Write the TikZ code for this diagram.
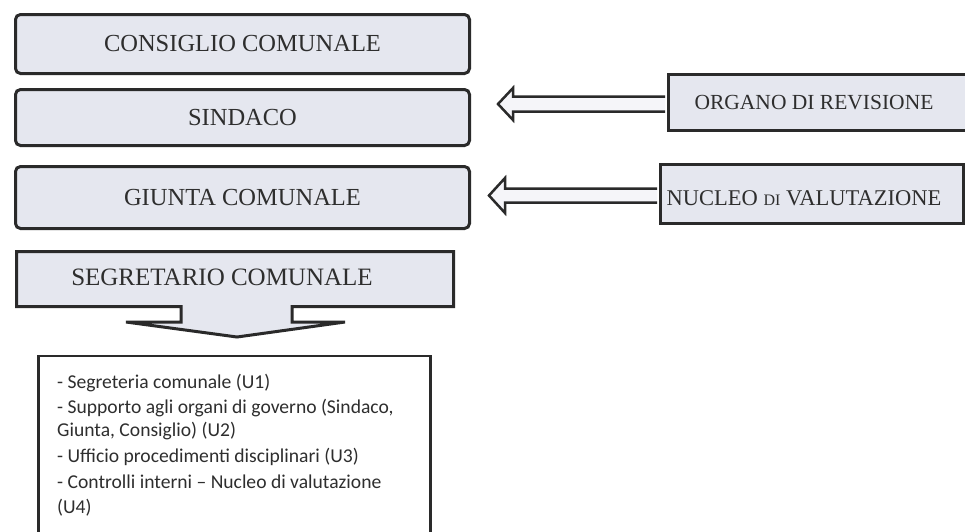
\documentclass[tikz,border=0pt]{standalone}
\usepackage{fontspec}
\setmainfont{Liberation Serif}
\newfontfamily\listfont{Carlito}
\usetikzlibrary{calc}
\definecolor{boxfill}{HTML}{E5E7EF}
\definecolor{ink}{HTML}{2A2A2A}
\definecolor{txt}{HTML}{2E2E2E}
\begin{document}
\begin{tikzpicture}[x=1pt,y=-1pt,
  topbox/.style={draw=ink, line width=3pt, fill=boxfill, rounded corners=5pt,
    minimum width=454pt, inner sep=0pt, font=\fontsize{24.5}{24.5}\selectfont, text=txt},
  sidebox/.style={draw=ink, line width=3pt, fill=boxfill, inner sep=0pt, anchor=west},
  sidetext/.style={inner sep=0pt, text=txt, font=\fontsize{21.5}{21.5}\selectfont},
  blockarr/.style={draw=ink, line width=2.5pt, fill=boxfill!40!white, line join=miter},
  listline/.style={anchor=base west, inner sep=0pt, text=txt, font=\listfont\fontsize{19.6}{19.6}\selectfont},
]
\useasboundingbox (0,0) rectangle (965,531);
\fill[white] (0,0) rectangle (965,531);

% left column
\node[topbox, minimum height=59pt] (cc) at (242.5,44) {CONSIGLIO COMUNALE};
\node[topbox, minimum height=56pt] (sind) at (242.5,117.5) {SINDACO};
\node[topbox, minimum height=62pt] (giun) at (242.5,197.5) {GIUNTA COMUNALE};

% right boxes
\node[sidebox, minimum width=340pt, minimum height=56pt] (org) at (666.5,102.5) {};
\node[sidetext] (orgt) at (814,103) {ORGANO DI REVISIONE};
\node[sidebox, minimum width=303pt, minimum height=59pt] (nuc) at (658.5,194) {};
\node[sidetext, font=\fontsize{22.5}{22.5}\selectfont] (nuct) at (804,198) {NUCLEO {\fontsize{16}{16}\selectfont DI} VALUTAZIONE};

% block arrows
\coordinate (t1) at (498,104);
\draw[blockarr] ($(org.west)+(-1.5,-6)$) -- (513,96.5) -- (513,88) -- (t1)
  -- (513,120) -- (513,111.5) -- ($(org.west)+(-1.5,9)$);
\coordinate (t2) at (489,195.5);
\draw[blockarr] ($(nuc.west)+(-1.5,-5.5)$) -- (505,188.5) -- (505,178) -- (t2)
  -- (505,213) -- (505,202.5) -- ($(nuc.west)+(-1.5,8.5)$);

% segretario callout
\draw[draw=ink, line width=3pt, fill=boxfill, line join=miter]
  (16.5,251.5) -- (453.5,251.5) -- (453.5,306.5) -- (292,306.5) -- (292,322)
  -- (345,322) -- (237,337) -- (126,322) -- (181,322) -- (181,306.5)
  -- (16.5,306.5) -- cycle;
\node[inner sep=0pt, text=txt, font=\fontsize{25}{25}\selectfont] (seg) at (222,277) {SEGRETARIO COMUNALE};

% list box
\draw[draw=ink, line width=2.5pt, fill=white] (38.5,356) rectangle (430.5,560);
\node[listline] (l1) at (57,388) {- Segreteria comunale (U1)};
\node[listline] (l2) at (57,413) {- Supporto agli organi di governo (Sindaco,};
\node[listline] (l3) at (57,436) {Giunta, Consiglio) (U2)};
\node[listline] (l4) at (57,462) {- Ufficio procedimenti disciplinari (U3)};
\node[listline] (l5) at (57,488) {- Controlli interni – Nucleo di valutazione};
\node[listline] (l6) at (57,513) {(U4)};
\end{tikzpicture}
\end{document}
